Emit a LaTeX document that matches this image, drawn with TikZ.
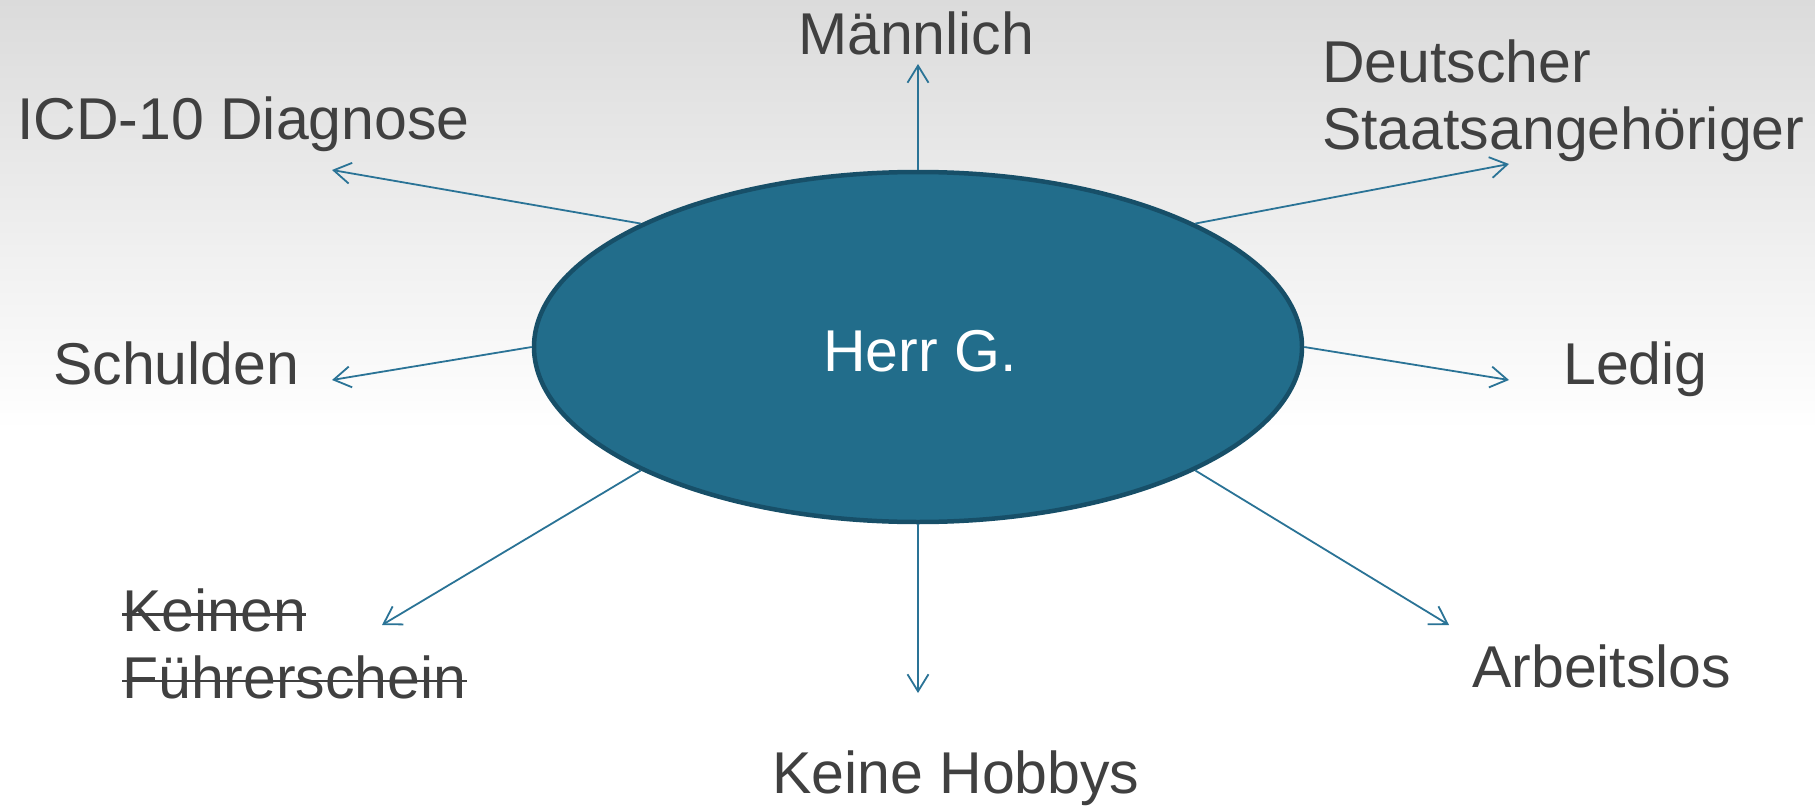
\documentclass[tikz,border=0pt]{standalone}
\usepackage{fontspec}
\setmainfont{Liberation Sans}
\usetikzlibrary{arrows.meta,shapes.geometric}
\definecolor{txt}{HTML}{404040}
\definecolor{efill}{HTML}{226D8B}
\definecolor{eline}{HTML}{174F68}
\definecolor{arr}{HTML}{2A7396}
\definecolor{bgtop}{HTML}{DBDBDB}
\newcommand\mystrk[1]{\leavevmode\setbox0\hbox{#1}\rlap{\rule[\dimexpr0.55ex-1.3pt\relax]{\wd0}{2.6pt}}\box0}
\begin{document}
\begin{tikzpicture}[x=1pt,y=-1pt,
  lbl/.style={font=\fontsize{59}{66.5}\selectfont, text=txt, inner sep=0pt, anchor=base west, align=left},
  conn/.style={draw=arr, line width=1.8pt, -{Straight Barb[length=17pt,width=21pt,line width=1.8pt]}}]
  \useasboundingbox (0,0) rectangle (1815,808);
  \fill[white] (0,0) rectangle (1815,808);
  \shade[top color=bgtop, bottom color=white] (0,0) rectangle (1815,430);

  \node[ellipse, draw=eline, line width=4.5pt, fill=efill, minimum width=768pt, minimum height=350pt, inner sep=0pt] (herr) at (918,347) {};
  \node[font=\fontsize{59}{66.5}\selectfont, text=white, inner sep=0pt, anchor=base] (herrtxt) at (920,371) {Herr G.};

  \node[lbl] (maennlich) at (798,55) {Männlich};
  \node[lbl] (icd) at (17,139) {ICD-10 Diagnose};
  \node[lbl] (deutsch) at (1322,149) {Deutscher\\Staatsangehöriger};
  \node[lbl] (schulden) at (53,384) {Schulden};
  \node[lbl] (ledig) at (1563,384) {Ledig};
  \node[lbl] (fuehrer) at (122,698) {\mystrk{Keinen}\\\mystrk{Führerschein}};
  \node[lbl] (hobbys) at (772,793) {Keine Hobbys};
  \node[lbl] (arbeit) at (1472,687) {Arbeitslos};

  \coordinate (pUp) at (918,64);
  \coordinate (pDown) at (918,693);
  \coordinate (pICD) at (332,170);
  \coordinate (pDeu) at (1509,164);
  \coordinate (pSch) at (332,380);
  \coordinate (pLed) at (1509,380);
  \coordinate (pFue) at (382,625);
  \coordinate (pArb) at (1449,625);

  \draw[conn] (herr.90) -- (pUp);
  \draw[conn] (herr.270) -- (pDown);
  \draw[conn] (herr.156) -- (pICD);
  \draw[conn] (herr.24) -- (pDeu);
  \draw[conn] (herr.180) -- (pSch);
  \draw[conn] (herr.0) -- (pLed);
  \draw[conn] (herr.204) -- (pFue);
  \draw[conn] (herr.336) -- (pArb);
\end{tikzpicture}
\end{document}
